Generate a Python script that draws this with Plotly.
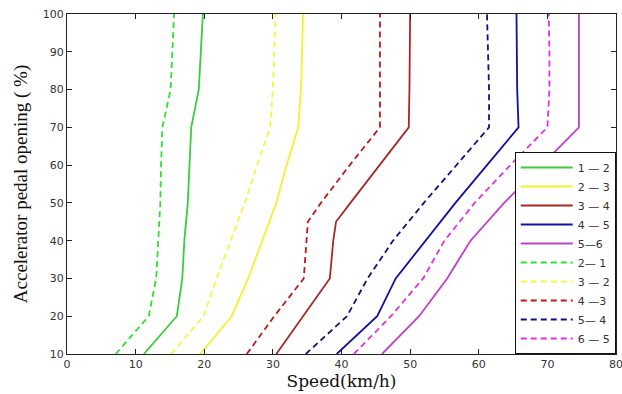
import plotly.graph_objects as go

# Accelerator pedal opening (%) points for each shift line
y_std = [10, 20, 30, 40, 50, 60, 70, 80, 90, 100]
y_kink = [10, 20, 30, 40, 45, 50, 60, 70, 80, 90, 100]

# Upshift lines (solid)
up_12 = [11.2, 16.0, 16.8, 17.1, 17.6, 17.8, 18.1, 19.2, 19.5, 19.8]
up_23 = [19.4, 24.0, 26.4, 28.5, 30.5, 32.0, 33.7, 34.1, 34.3, 34.4]
up_34 = [30.5, 34.4, 38.3, 38.8, 39.2, 41.3, 45.6, 49.8, 49.9, 49.9, 50.0]
up_45 = [39.3, 45.2, 47.9, 52.3, 56.6, 61.2, 65.8, 65.6, 65.5, 65.5]
up_56 = [45.9, 51.3, 55.4, 58.8, 63.7, 69.1, 74.6, 74.6, 74.6, 74.6]

# Downshift lines (dashed)
dn_21 = [7.1, 11.9, 13.0, 13.3, 13.6, 13.7, 13.9, 15.1, 15.3, 15.6]
dn_32 = [15.2, 19.9, 21.8, 23.8, 25.9, 27.7, 29.6, 30.0, 30.2, 30.4]
dn_43 = [26.2, 30.2, 34.5, 34.9, 35.1, 37.0, 41.2, 45.6, 45.6, 45.6, 45.6]
dn_54 = [34.8, 40.8, 43.8, 47.5, 52.0, 56.8, 61.5, 61.5, 61.3, 61.2]
dn_65 = [41.8, 47.2, 51.9, 55.0, 59.4, 64.6, 70.0, 70.3, 70.3, 70.2]

x_ticks = [0, 10, 20, 30, 40, 50, 60, 70, 80]
y_ticks = [10, 20, 30, 40, 50, 60, 70, 80, 90, 100]

series = [
    ("1 — 2", up_12, y_std, "#3ccc3c", "solid"),
    ("2 — 3", up_23, y_std, "#f2f230", "solid"),
    ("3 — 4", up_34, y_kink, "#a82828", "solid"),
    ("4 — 5", up_45, y_std, "#1010a0", "solid"),
    ("5—6", up_56, y_std, "#c040c8", "solid"),
    ("2— 1", dn_21, y_std, "#30e030", "6px,4px"),
    ("3 — 2", dn_32, y_std, "#f6f640", "6px,4px"),
    ("4 —3", dn_43, y_kink, "#c01818", "6px,4px"),
    ("5— 4", dn_54, y_std, "#101080", "6px,4px"),
    ("6 — 5", dn_65, y_std, "#e030e0", "6px,4px"),
]

fig = go.Figure()
for name, xs, ys, color, dash in series:
    fig.add_trace(go.Scatter(
        x=xs, y=ys, mode="lines", name=name,
        line=dict(color=color, width=1.8, dash=dash),
    ))

axis_common = dict(
    showgrid=False, zeroline=False, showline=True, linecolor="#222",
    linewidth=1.2, mirror="ticks", ticks="inside", ticklen=5,
    tickcolor="#222", ticklabeloverflow="allow", automargin=False,
    tickfont=dict(family="DejaVu Sans", size=11, color="#333"),
)

fig.update_layout(
    width=622, height=394,
    margin=dict(l=67, r=6, t=14, b=40),
    paper_bgcolor="white", plot_bgcolor="white",
    xaxis=dict(range=[0, 80], tickvals=x_ticks,
               title=dict(text="Speed(km/h)", standoff=2,
                          font=dict(family="DejaVu Serif", size=17, color="#111")),
               **axis_common),
    yaxis=dict(range=[10, 100], tickvals=y_ticks,
               title=dict(text="Accelerator pedal opening ( %)", standoff=10,
                          font=dict(family="Liberation Serif, Times New Roman", size=19, color="#111")),
               **axis_common),
    legend=dict(
        x=0.9995, y=0.0, xanchor="right", yanchor="bottom",
        bgcolor="white", bordercolor="#111", borderwidth=1,
        font=dict(family="DejaVu Sans", size=11, color="#333"),
        tracegroupgap=0, itemwidth=52,
    ),
    showlegend=True,
)

fig.write_html("out.html")
